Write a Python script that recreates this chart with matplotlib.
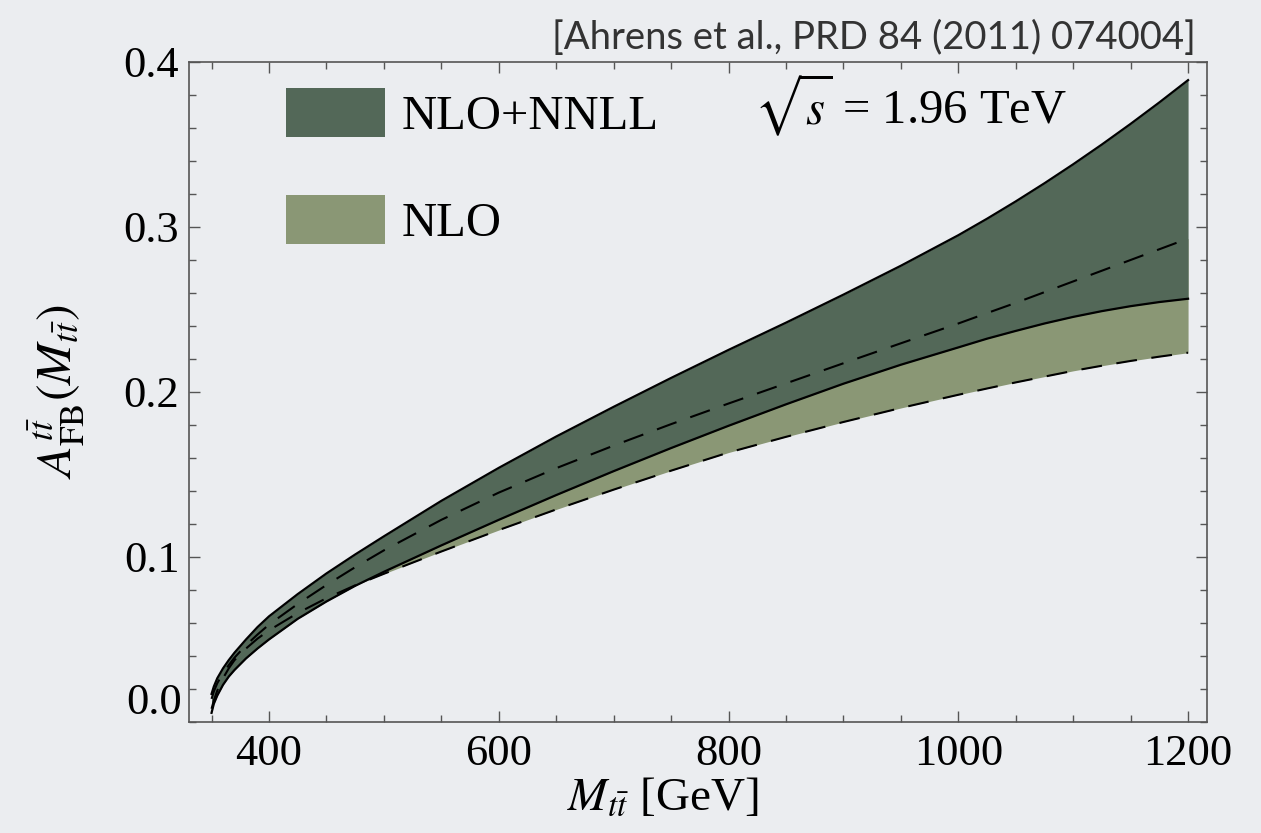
import numpy as np
import matplotlib.pyplot as plt
from matplotlib.patches import Patch
from matplotlib.ticker import MultipleLocator
import matplotlib.transforms as mtransforms

plt.rcParams['font.family'] = ['Liberation Serif', 'DejaVu Serif']
plt.rcParams['mathtext.fontset'] = 'stix'

# invariant mass grid (GeV)
mtt = [350, 352, 355, 360, 365, 370, 380, 390, 400, 425, 450, 475, 500, 550,
       600, 650, 700, 750, 800, 850, 900, 950, 1000, 1025, 1050, 1075, 1100,
       1125, 1150, 1175, 1200]

# NLO+NNLL band (upper / lower edge)
nnll_hi = [0.017, 0.0215, 0.0265, 0.0325, 0.0375, 0.042, 0.050, 0.0575, 0.064, 0.0775,
           0.090, 0.1015, 0.1125, 0.134, 0.154, 0.173, 0.191, 0.2085, 0.2255, 0.242,
           0.259, 0.2765, 0.295, 0.305, 0.3155, 0.3265, 0.338, 0.350, 0.3625, 0.3755,
           0.389]
nnll_lo = [0.0055, 0.011, 0.016, 0.0225, 0.0275, 0.0315, 0.0385, 0.0445, 0.050, 0.0625,
           0.073, 0.0825, 0.091, 0.107, 0.1225, 0.1375, 0.152, 0.166, 0.1795, 0.1925,
           0.205, 0.2165, 0.227, 0.2323, 0.237, 0.2415, 0.2455, 0.249, 0.252, 0.2545,
           0.2565]

# NLO band (upper / lower edge)
nlo_hi = [0.014, 0.0185, 0.0235, 0.0295, 0.0345, 0.039, 0.0465, 0.053, 0.059, 0.0715,
          0.083, 0.0938, 0.104, 0.1225, 0.139, 0.1538, 0.1675, 0.1805, 0.193, 0.2052,
          0.2174, 0.2295, 0.2415, 0.2478, 0.254, 0.2605, 0.267, 0.2735, 0.280, 0.2865,
          0.293]
nlo_lo = [0.008, 0.013, 0.019, 0.0265, 0.0325, 0.0375, 0.0445, 0.0505, 0.0555, 0.066,
          0.075, 0.0828, 0.0898, 0.1033, 0.1163, 0.1288, 0.1408, 0.1523, 0.1633, 0.1728,
          0.1818, 0.1903, 0.1983, 0.2021, 0.2058, 0.2093, 0.2128, 0.2159, 0.2188, 0.2214,
          0.2238]

bg = '#ebedf0'
c_nnll = '#536858'
c_nlo = '#8a9775'
axcol = '#555555'

fig = plt.figure(figsize=(12.61, 8.33), dpi=100, facecolor=bg)
ax = fig.add_axes([0.1499, 0.1333, 0.8073, 0.7923])
ax.set_facecolor(bg)

ax.fill_between(mtt, nlo_lo, nlo_hi, color=c_nlo, lw=0, zorder=1)
ax.fill_between(mtt, nnll_lo, nnll_hi, color=c_nnll, lw=0, zorder=2)
ax.plot(mtt, nnll_hi, color='k', lw=1.6, zorder=3)
ax.plot(mtt, nnll_lo, color='k', lw=1.6, zorder=3)
ax.plot(mtt, nlo_hi, color='k', lw=1.5, ls=(0, (10, 7)), zorder=4)
ax.plot(mtt, nlo_lo, color='k', lw=1.5, ls=(0, (10, 7)), zorder=4)

ax.set_xlim(330.4, 1216.5)
ax.set_ylim(0, 0.4)
ax.xaxis.set_major_locator(MultipleLocator(200))
ax.xaxis.set_minor_locator(MultipleLocator(50))
ax.yaxis.set_minor_locator(MultipleLocator(0.02))
ax.set_yticks([0.1, 0.2, 0.3, 0.4])
ax.set_yticklabels(['0.1', '0.2', '0.3', '0.4'])
ax.tick_params(which='both', direction='in', top=True, right=True,
               color=axcol, width=1.0, labelsize=32, labelcolor='k')
ax.tick_params(which='major', length=8, pad=7)
ax.tick_params(axis='x', which='major', pad=9)
ax.tick_params(which='minor', length=5)
for s in ax.spines.values():
    s.set_color(axcol)
    s.set_linewidth(1.2)

# zero label sits a little above the axis corner
zero_tr = ax.get_yaxis_transform() + mtransforms.ScaledTranslation(-0.07, 0.19, fig.dpi_scale_trans)
ax.text(0, 0, '0.0', transform=zero_tr, ha='right', va='center', fontsize=32)

ax.set_xlabel(r'$M_{t\bar{t}}$ [GeV]', fontsize=34, labelpad=2, x=0.465)
ax.set_ylabel(r'$A_{\rm FB}^{t\bar{t}}(M_{t\bar{t}})$', fontsize=36, labelpad=26)

handles = [Patch(facecolor=c_nnll, edgecolor='none', label='NLO+NNLL'),
           Patch(facecolor=c_nlo, edgecolor='none', label='NLO')]
ax.legend(handles=handles, loc='upper left', bbox_to_anchor=(0.095, 0.96),
          frameon=False, fontsize=35, handlelength=2.04, handleheight=1.17,
          handletextpad=0.35, labelspacing=1.15, borderaxespad=0, borderpad=0)

ax.text(0.555, 0.935, r'$\sqrt{s}$ = 1.96 TeV', transform=ax.transAxes,
        fontsize=35, va='center', ha='left')

fig.text(0.948, 0.955, '[Ahrens et al., PRD 84 (2011) 074004]', family='Lato',
         fontsize=27.5, color='#333333', ha='right', va='center')

fig.savefig('out.png', dpi=100, facecolor=bg)
